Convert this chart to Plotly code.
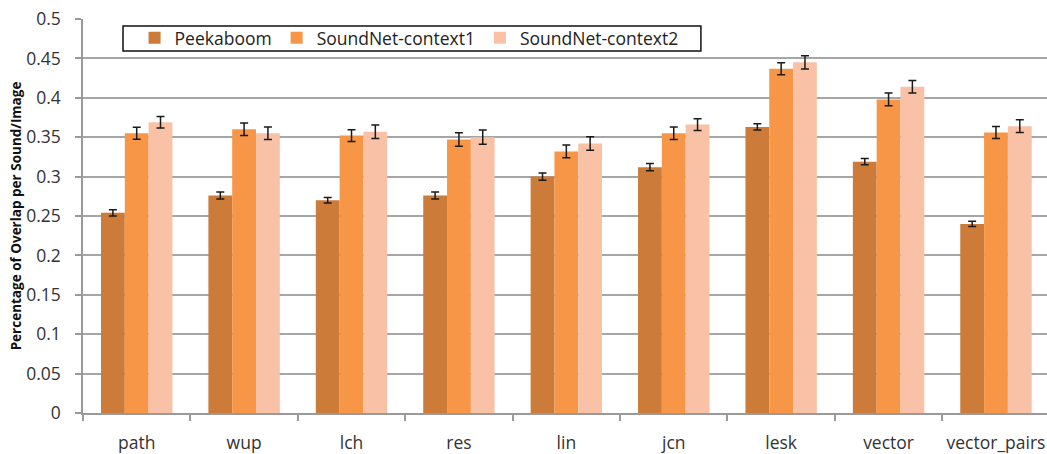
import plotly.graph_objects as go

categories = ["path", "wup", "lch", "res", "lin", "jcn", "lesk", "vector", "vector_pairs"]

peekaboom = [0.254, 0.276, 0.270, 0.276, 0.300, 0.312, 0.363, 0.319, 0.240]
peekaboom_err = [0.004, 0.0045, 0.0035, 0.0045, 0.0045, 0.0045, 0.004, 0.004, 0.0034]

context1 = [0.355, 0.360, 0.352, 0.347, 0.332, 0.355, 0.437, 0.398, 0.356]
context1_err = [0.0075, 0.008, 0.0076, 0.0085, 0.008, 0.008, 0.0076, 0.008, 0.0076]

context2 = [0.369, 0.355, 0.357, 0.350, 0.342, 0.366, 0.445, 0.414, 0.364]
context2_err = [0.0074, 0.008, 0.0085, 0.009, 0.0085, 0.0074, 0.0085, 0.008, 0.008]

y_ticks = [0, 0.05, 0.1, 0.15, 0.2, 0.25, 0.3, 0.35, 0.4, 0.45, 0.5]
y_tick_text = ["0", "0.05", "0.1", "0.15", "0.2", "0.25", "0.3", "0.35", "0.4", "0.45", "0.5"]

series = [
    ("Peekaboom", peekaboom, peekaboom_err, "#CD7B38"),
    ("SoundNet-context1", context1, context1_err, "#F79646"),
    ("SoundNet-context2", context2, context2_err, "#F9C2A6"),
]

FONT = "Open Sans"
LABEL_SIZE = 17.5

fig = go.Figure()
for name, vals, errs, color in series:
    fig.add_trace(go.Bar(
        name=name,
        x=categories,
        y=vals,
        marker=dict(color=color, line=dict(width=0)),
        error_y=dict(type="data", array=errs, visible=True,
                     color="#1a1a1a", thickness=1.5, width=4),
    ))

# frame drawn around the legend entries
fig.add_shape(
    type="rect", xref="paper", yref="paper",
    x0=0.0415, x1=0.641, y0=0.9187, y1=0.982,
    line=dict(color="#111111", width=1.5),
    fillcolor="white", layer="below",
)

fig.update_layout(
    width=1047,
    height=454,
    margin=dict(l=83, r=0, t=19, b=41),
    paper_bgcolor="white",
    plot_bgcolor="white",
    barmode="group",
    bargap=0.335,
    bargroupgap=0,
    font=dict(family=FONT, size=LABEL_SIZE, color="#333333"),
    showlegend=True,
    legend=dict(
        orientation="h",
        x=0.0535, y=0.9518, xanchor="left", yanchor="middle",
        bgcolor="rgba(0,0,0,0)",
        borderwidth=0,
        font=dict(family=FONT, size=LABEL_SIZE, color="#222222"),
        itemwidth=30,
        traceorder="normal",
    ),
    xaxis=dict(
        range=[-0.5, 8.475],
        showline=True, linecolor="#9a9a9a", linewidth=1.5,
        ticks="outside", tickson="boundaries", ticklen=6,
        tickcolor="#9a9a9a", tickwidth=1.5,
        showgrid=False,
        tickfont=dict(family=FONT, size=LABEL_SIZE, color="#333333"),
        ticklabelstandoff=13,
    ),
    yaxis=dict(
        range=[0, 0.5],
        tickvals=y_ticks,
        ticktext=y_tick_text,
        showline=True, linecolor="#9a9a9a", linewidth=1.5,
        ticks="outside", ticklen=6, tickcolor="#9a9a9a", tickwidth=1.5,
        showgrid=True, gridcolor="#a6a6a6", gridwidth=1.5,
        zeroline=False,
        tickfont=dict(family=FONT, size=LABEL_SIZE, color="#333333"),
        ticklabelstandoff=11,
        title=dict(text="<b>Percentage of Overlap per Sound/Image</b>",
                   font=dict(family=FONT, size=13.5, color="#111111"),
                   standoff=1),
    ),
)

fig.write_html("out.html")
